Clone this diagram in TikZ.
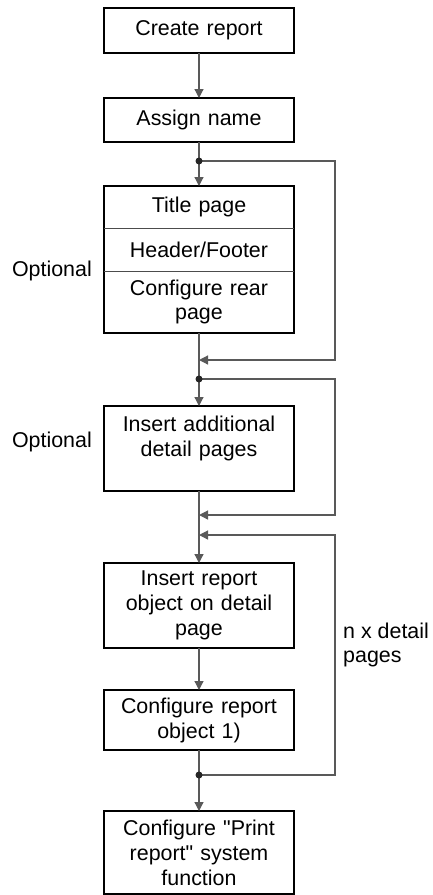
\documentclass[tikz,border=0pt]{standalone}
\usepackage{fontspec}
\setmainfont{Liberation Sans}
\usetikzlibrary{positioning,arrows.meta}

\begin{document}
\begin{tikzpicture}[x=1bp,y=-1bp,
  box/.style={draw,line width=1.5bp,outer sep=0pt,text width=180bp,inner xsep=5bp,inner ysep=0pt,align=center,minimum height=#1},
  part/.style={outer sep=0pt,text width=180bp,inner xsep=5bp,inner ysep=0pt,align=center,minimum height=#1},
  conn/.style={draw=black!65,line width=1.2bp},
  tip/.style={-{Triangle[length=9bp,width=9bp]}},
  lbl/.style={inner sep=0pt,align=left}]
\tikzstyle{every node}=[font=\fontsize{21.5}{25}\selectfont]
\useasboundingbox (0,0) rectangle (432,895);
\node[box=45bp] (create) at (199,30.5) {Create report};
\node[box=44bp,below=45bp of create] (assign) {Assign name};
\node[part=42bp,below=44bp of assign] (title) {Title page};
\node[part=43bp,below=0bp of title] (header) {Header/Footer};
\node[part=62bp,below=0bp of header] (rear) {Configure rear\\page};
\draw[line width=1.5bp] (title.north west) rectangle (rear.south east);
\draw[line width=0.8bp,black!70] (title.south west) -- (title.south east)
  (header.south west) -- (header.south east);
\node[box=85bp,below=73bp of rear] (add) {Insert additional\\detail pages\\\mbox{}};
\node[box=85bp,below=72bp of add] (insert) {Insert report\\object on detail\\page};
\node[box=60bp,below=42bp of insert] (conf) {Configure report\\object 1)};
\node[box=83bp,below=61bp of conf] (print) {Configure \textquotedbl Print\\report\textquotedbl{} system\\function};

\coordinate (edge) at (335,0);
\coordinate[below=19bp of assign] (d1);
\coordinate[below=27bp of rear] (m1);
\coordinate[below=46bp of rear] (d2);
\coordinate[below=24bp of add] (m2);
\coordinate[above=28bp of insert] (m3);
\coordinate[below=25bp of conf] (d3);

\draw[conn,tip] (create) -- (assign);
\draw[conn,tip] (assign) -- (title);
\draw[conn,tip] (rear) -- (add);
\draw[conn,tip] (add) -- (insert);
\draw[conn,tip] (insert) -- (conf);
\draw[conn,tip] (conf) -- (print);

\draw[conn,tip] (d1) -- (d1 -| edge) -- (m1 -| edge) -- (m1);
\draw[conn,tip] (d2) -- (d2 -| edge) -- (m2 -| edge) -- (m2);
\draw[conn,tip] (d3) -- (d3 -| edge) -- (m3 -| edge) -- (m3);
\fill[black!85] (d1) circle (3.5bp) (d2) circle (3.5bp) (d3) circle (3.5bp);

\node[lbl,left=12bp of rear.north west] (opt1) {Optional};
\node[lbl,left=12bp of add.west,yshift=7bp] (opt2) {Optional};
\node[lbl,anchor=west] (npages) at (343,645) {n x detail\\pages};
\end{tikzpicture}
\end{document}
